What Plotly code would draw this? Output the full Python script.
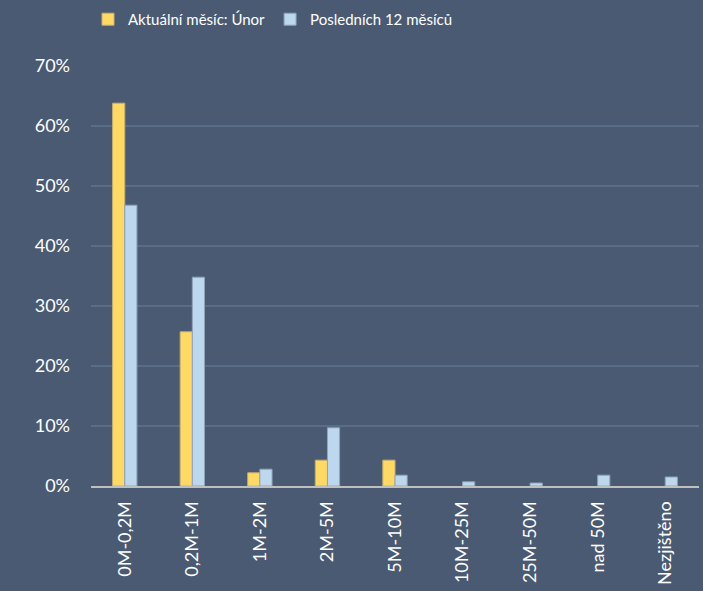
import plotly.graph_objects as go

categories = ["0M-0,2M", "0,2M-1M", "1M-2M", "2M-5M", "5M-10M", "10M-25M", "25M-50M", "nad 50M", "Nezjištěno"]
current_month = [0.638, 0.257, 0.022, 0.043, 0.043, 0.0, 0.0, 0.0, 0.0]
last_12_months = [0.468, 0.348, 0.028, 0.097, 0.018, 0.007, 0.005, 0.018, 0.015]
tick_vals = [0, 0.1, 0.2, 0.3, 0.4, 0.5, 0.6, 0.7]
tick_text = ["0%", "10%", "20%", "30%", "40%", "50%", "60%", "70%"]

BG = "#4A5A72"
FONT = "Lato, 'Open Sans', sans-serif"


def edge_widths(values):
    return [1 if v > 0 else 0 for v in values]


fig = go.Figure()
fig.add_trace(go.Bar(
    x=categories, y=current_month, name="Aktuální měsíc: Únor",
    marker=dict(color="#FFD966", line=dict(color="#C9B06A", width=edge_widths(current_month))),
))
fig.add_trace(go.Bar(
    x=categories, y=last_12_months, name="Posledních 12 měsíců",
    marker=dict(color="#BDD7EE", line=dict(color="#8FA3B8", width=edge_widths(last_12_months))),
))

fig.update_layout(
    width=703, height=591,
    paper_bgcolor=BG, plot_bgcolor=BG,
    margin=dict(l=91, r=4, t=66, b=105),
    barmode="group", bargap=0.64, bargroupgap=0,
    font=dict(family=FONT, color="#FFFFFF", size=18),
    legend=dict(orientation="h", x=88 / 703, xanchor="left", xref="container",
                y=0.995, yanchor="top", yref="container",
                font=dict(size=15, color="#FFFFFF"),
                itemwidth=30, traceorder="normal", tracegroupgap=0),
    showlegend=True,
)
fig.update_xaxes(
    tickangle=-90, showgrid=False, showline=True, linecolor="#BFBFBF", linewidth=2,
    ticks="", tickfont=dict(size=18, color="#FFFFFF"), ticklabelstandoff=6,
)
fig.update_yaxes(
    range=[0, 0.7], tickvals=tick_vals, ticktext=tick_text,
    showgrid=True, gridcolor="#5A6D88", gridwidth=1.5, zeroline=False,
    showline=False, ticks="", tickfont=dict(size=18, color="#FFFFFF"), ticklabelstandoff=20,
)

fig.write_html("out.html", config={"displayModeBar": False},
               post_script="document.body.style.margin='0';document.body.style.overflow='hidden';")
